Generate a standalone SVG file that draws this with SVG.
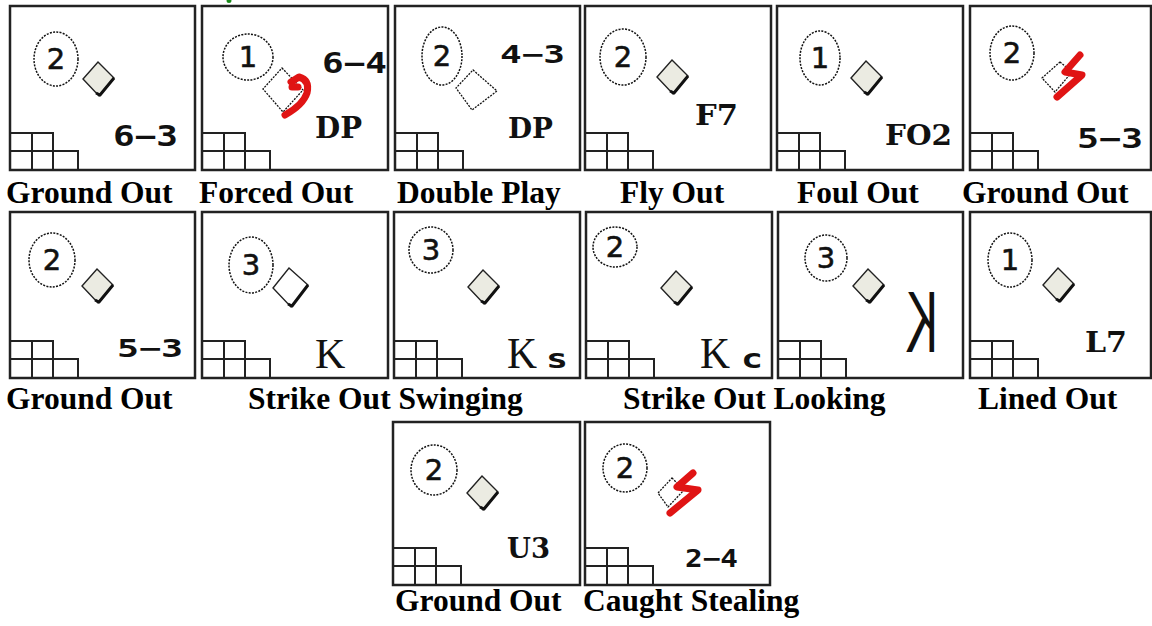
<svg xmlns="http://www.w3.org/2000/svg" width="1152" height="626" viewBox="0 0 1152 626">
<style>
.box{fill:#fff;stroke:#222;stroke-width:2.5}
.grid{fill:none;stroke:#222;stroke-width:2}
.ring{fill:none;stroke:#111;stroke-width:1.5;stroke-dasharray:2 1.3}
.num{font-family:"DejaVu Sans",sans-serif;font-size:29px;text-anchor:middle;fill:#111;stroke:#111;stroke-width:0.6}
.bfill{fill:#ebebe2;stroke:#222;stroke-width:1.4}
.bedge{fill:none;stroke:#111;stroke-width:3;stroke-linejoin:round}
.bout{fill:#fff;stroke:#111;stroke-width:1.3;stroke-dasharray:2 1.2}
.code{font-family:"DejaVu Sans Mono",monospace;font-weight:bold;fill:#111}
.scode{font-family:"DejaVu Serif",serif;font-weight:bold;fill:#111}
.kk{font-family:"Liberation Serif","Times New Roman",serif;fill:#111}
.red{fill:none;stroke:#e01414;stroke-width:7;stroke-linecap:round;stroke-linejoin:round}
.cap{font-family:"Liberation Serif","Times New Roman",serif;font-weight:bold;font-size:31.5px;fill:#000}
</style>
<defs>
<path id="grid" class="grid" d="M0,-37H43V0M0,-19H68V0M22,-37V0"/>
<g id="base"><polygon class="bfill" points="0,-17 16,-1 1,17 -15,0"/><polyline class="bedge" points="16,-1 2,16 -2,14"/></g>
</defs>
<ellipse cx="229" cy="1" rx="2.5" ry="2" fill="#1a8a1a"/>

<g id="n1" transform="translate(10,6)">
<rect class="box" width="185" height="164"/><use href="#grid" y="164"/>
<ellipse class="ring" cx="46" cy="53" rx="22" ry="27"/><text class="num" x="46" y="63">2</text>
<use href="#base" x="88" y="73"/>
<text class="code" x="103" y="140" font-size="28" textLength="65" lengthAdjust="spacingAndGlyphs">6−3</text>
</g>
<g id="n2" transform="translate(202,6)">
<rect class="box" width="186" height="164"/><use href="#grid" y="164"/>
<ellipse class="ring" cx="46" cy="51" rx="25" ry="23"/><text class="num" x="46" y="61">1</text>
<polygon class="bout" points="80,62 101,84 81,106 61,83"/>
<path class="red" d="M89,76L97,71Q108,74 105,87Q101,99 83,109M90,81L96,81"/>
<text class="code" x="120" y="67" font-size="28" textLength="65" lengthAdjust="spacingAndGlyphs">6−4</text>
<text class="scode" x="113" y="132" font-size="29" textLength="47" lengthAdjust="spacingAndGlyphs">DP</text>
</g>
<g id="n3" transform="translate(395,6)">
<rect class="box" width="185" height="164"/><use href="#grid" y="164"/>
<ellipse class="ring" cx="47" cy="50" rx="20" ry="29"/><text class="num" x="47" y="60">2</text>
<polygon class="bout" points="78,64 102,85 77,104 61,82"/>
<text class="code" x="105" y="57" font-size="24" textLength="65" lengthAdjust="spacingAndGlyphs">4−3</text>
<text class="scode" x="113" y="132" font-size="28" textLength="45" lengthAdjust="spacingAndGlyphs">DP</text>
</g>
<g id="n4" transform="translate(585,6)">
<rect class="box" width="186" height="164"/><use href="#grid" y="164"/>
<ellipse class="ring" cx="38" cy="51" rx="23" ry="28"/><text class="num" x="38" y="61">2</text>
<use href="#base" x="87" y="71"/>
<text class="scode" x="110" y="119" font-size="28" textLength="43" lengthAdjust="spacingAndGlyphs">F7</text>
</g>
<g id="n5" transform="translate(777,6)">
<rect class="box" width="186" height="164"/><use href="#grid" y="164"/>
<ellipse class="ring" cx="43" cy="52" rx="20" ry="27"/><text class="num" x="43" y="62">1</text>
<use href="#base" x="89" y="72"/>
<text class="scode" x="108" y="139" font-size="28" textLength="67" lengthAdjust="spacingAndGlyphs">FO2</text>
</g>
<g id="n6" transform="translate(970,6)">
<rect class="box" width="181" height="164"/><use href="#grid" y="164"/>
<ellipse class="ring" cx="42" cy="47" rx="22" ry="27"/><text class="num" x="42" y="57">2</text>
<polygon class="bout" points="90,56 102,66 85,86 72,72"/>
<path class="red" d="M110,49L95,66L112,69L87,91"/>
<text class="code" x="107" y="142" font-size="26" textLength="66" lengthAdjust="spacingAndGlyphs">5−3</text>
</g>

<g id="n7" transform="translate(10,212)">
<rect class="box" width="185" height="166"/><use href="#grid" y="166"/>
<ellipse class="ring" cx="42" cy="48" rx="23" ry="27"/><text class="num" x="42" y="58">2</text>
<use href="#base" x="87" y="74"/>
<text class="code" x="107" y="145" font-size="24" textLength="66" lengthAdjust="spacingAndGlyphs">5−3</text>
</g>
<g id="n8" transform="translate(202,212)">
<rect class="box" width="186" height="166"/><use href="#grid" y="166"/>
<ellipse class="ring" cx="49" cy="53" rx="22" ry="28"/><text class="num" x="49" y="63">3</text>
<polygon class="bfill" style="fill:#fff" points="87,56 106,73 89,95 71,76"/><polyline class="bedge" points="106,73 90,94 86,92"/>
<text class="kk" x="113" y="156" font-size="42">K</text>
</g>
<g id="n9" transform="translate(394,212)">
<rect class="box" width="186" height="166"/><use href="#grid" y="166"/>
<ellipse class="ring" cx="37" cy="38" rx="22" ry="23"/><text class="num" x="37" y="48">3</text>
<use href="#base" x="89" y="75"/>
<text class="kk" x="113" y="156" font-size="44" textLength="30" lengthAdjust="spacingAndGlyphs">K</text>
<text class="code" x="152" y="156" font-size="26" font-weight="normal" textLength="22" lengthAdjust="spacingAndGlyphs">s</text>
</g>
<g id="n10" transform="translate(586,212)">
<rect class="box" width="186" height="166"/><use href="#grid" y="166"/>
<ellipse class="ring" cx="29" cy="35" rx="22" ry="20"/><text class="num" x="29" y="45">2</text>
<use href="#base" x="90" y="76"/>
<text class="kk" x="114" y="156" font-size="44" textLength="30" lengthAdjust="spacingAndGlyphs">K</text>
<text class="code" x="155" y="156" font-size="26" font-weight="normal" textLength="22" lengthAdjust="spacingAndGlyphs">c</text>
</g>
<g id="n11" transform="translate(778,212)">
<rect class="box" width="185" height="166"/><use href="#grid" y="166"/>
<ellipse class="ring" cx="48" cy="46" rx="21" ry="23"/><text class="num" x="48" y="56">3</text>
<use href="#base" x="90" y="74"/>
<text font-family="Liberation Sans,Arial,sans-serif" font-size="88" fill="#111" transform="translate(160,140) scale(-0.55,1)">K</text>
</g>
<g id="n12" transform="translate(970,212)">
<rect class="box" width="181" height="166"/><use href="#grid" y="166"/>
<ellipse class="ring" cx="40" cy="48" rx="22" ry="27"/><text class="num" x="40" y="58">1</text>
<use href="#base" x="88" y="73"/>
<text class="scode" x="115" y="140" font-size="28" textLength="42" lengthAdjust="spacingAndGlyphs">L7</text>
</g>

<g id="n13" transform="translate(393,422)">
<rect class="box" width="187" height="163"/><use href="#grid" y="163"/>
<ellipse class="ring" cx="41" cy="48" rx="23" ry="25"/><text class="num" x="41" y="58">2</text>
<use href="#base" x="89" y="71"/>
<text class="scode" x="114" y="136" font-size="27" textLength="43" lengthAdjust="spacingAndGlyphs">U3</text>
</g>
<g id="n14" transform="translate(585,422)">
<rect class="box" width="185" height="163"/><use href="#grid" y="163"/>
<ellipse class="ring" cx="40" cy="46" rx="22" ry="24"/><text class="num" x="40" y="56">2</text>
<polygon class="bout" points="87,56 99,68 83,85 73,71"/>
<path class="red" d="M108,51L92,65L113,68L85,91"/>
<text class="code" x="100" y="145" font-size="24" textLength="53" lengthAdjust="spacingAndGlyphs">2−4</text>
</g>

<g id="labels">
<text class="cap" x="6" y="203">Ground Out</text>
<text class="cap" x="199" y="203">Forced Out</text>
<text class="cap" x="397" y="203">Double Play</text>
<text class="cap" x="620" y="203">Fly Out</text>
<text class="cap" x="797" y="203">Foul Out</text>
<text class="cap" x="962" y="203">Ground Out</text>
<text class="cap" x="6" y="409">Ground Out</text>
<text class="cap" x="248" y="409">Strike Out Swinging</text>
<text class="cap" x="623" y="409">Strike Out Looking</text>
<text class="cap" x="978" y="409">Lined Out</text>
<text class="cap" x="395" y="611">Ground Out</text>
<text class="cap" x="583" y="611">Caught Stealing</text>
</g>
</svg>
